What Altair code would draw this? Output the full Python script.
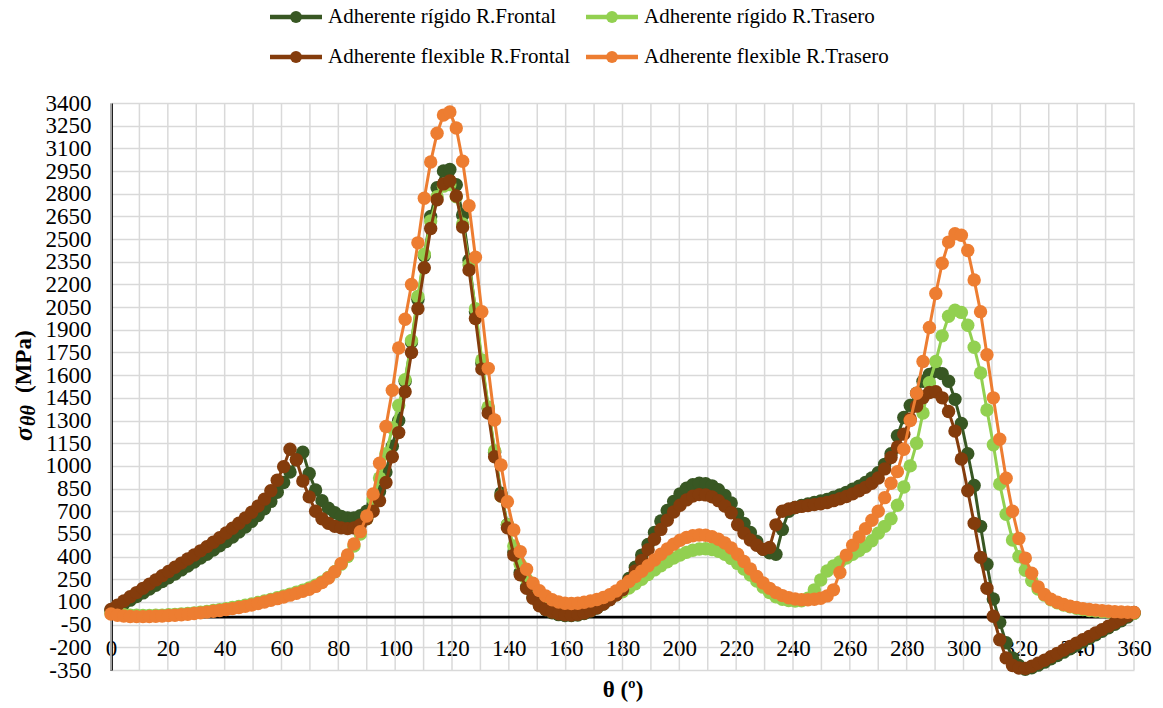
import altair as alt
import pandas as pd

# Angular positions (degrees) at which the hoop stress was evaluated
theta = [round(i * 2.25, 2) for i in range(161)]

series_names = [
    "Adherente rígido R.Frontal",
    "Adherente rígido R.Trasero",
    "Adherente flexible R.Frontal",
    "Adherente flexible R.Trasero",
]
series_colors = ["#385723", "#92d050", "#843c0c", "#ed7d31"]

rigido_frontal = [
    45, 65, 88, 112, 136, 160, 185, 210, 235, 260,
    285, 312, 338, 364, 390, 416, 443, 471, 500, 530,
    562, 596, 633, 672, 716, 765, 825, 890, 960, 1040,
    1090, 950, 840, 770, 720, 690, 665, 655, 655, 670,
    700, 750, 830, 960, 1130, 1300, 1560, 1820, 2100, 2390,
    2650, 2840, 2950, 2960, 2860, 2660, 2360, 2020, 1680, 1380,
    1090, 820, 610, 430, 295, 200, 130, 80, 48, 28,
    16, 10, 10, 14, 24, 40, 60, 86, 116, 150,
    190, 255, 330, 410, 480, 560, 635, 705, 765, 815,
    852, 875, 885, 882, 868, 843, 805, 755, 680, 620,
    560, 500, 448, 425, 415, 580, 700, 725, 738, 748,
    758, 768, 778, 792, 808, 825, 845, 865, 890, 920,
    955, 1010, 1080, 1200, 1320, 1400, 1480, 1560, 1605, 1625,
    1610, 1560, 1440, 1280, 1080, 870, 600, 350, 120, -35,
    -170, -270, -320, -345, -335, -318, -298, -276, -254, -232,
    -209, -186, -163, -140, -117, -94, -71, -48, -25, 0, 25,
]

rigido_trasero = [
    25, 20, 16, 13, 12, 11, 11, 12, 13, 15,
    18, 21, 24, 28, 32, 37, 43, 49, 56, 63,
    70, 78, 87, 96, 106, 117, 128, 140, 152, 165,
    178, 192, 210, 233, 262, 300, 350, 400, 470, 550,
    650, 780, 920, 1080, 1250, 1400, 1570, 1830, 2120, 2400,
    2620, 2780, 2850, 2860, 2780, 2600, 2330, 2040, 1700, 1390,
    1100, 800, 610, 470, 350, 250, 180, 130, 105, 92,
    85, 78, 75, 76, 80, 88, 98, 112, 128, 148,
    168, 192, 220, 250, 282, 312, 340, 366, 390, 410,
    428, 442, 450, 452, 447, 435, 415, 388, 355, 318,
    278, 238, 198, 162, 135, 118, 110, 106, 108, 125,
    180, 245, 305, 338, 365, 390, 415, 440, 468, 505,
    555, 600, 650, 740, 860, 1000, 1150, 1350, 1550, 1690,
    1860, 1990, 2030, 2015, 1930, 1785, 1615, 1370, 1140, 880,
    680, 510, 400, 310, 240, 185, 145, 115, 95, 80,
    68, 58, 50, 44, 40, 36, 33, 30, 28, 27, 25,
]

flexible_frontal = [
    50, 78, 106, 134, 162, 190, 218, 246, 274, 302,
    330, 357, 384, 411, 438, 466, 495, 525, 556, 588,
    621, 656, 693, 734, 780, 835, 905, 995, 1110, 1040,
    900, 795, 700, 650, 620, 600, 590, 585, 590, 610,
    650, 700, 770, 890, 1060, 1220, 1490, 1750, 2040, 2310,
    2570, 2760, 2865, 2885, 2785, 2580, 2295, 1975, 1640, 1350,
    1060, 800, 590, 410, 280, 190, 125, 75, 50, 33,
    22, 15, 14, 18, 27, 42, 62, 86, 114, 146,
    180, 240, 305, 375, 445, 515, 580, 640, 695, 740,
    775, 800, 810, 808, 795, 770, 735, 690, 610, 555,
    510, 475, 448, 460, 610, 700, 715, 725, 732, 738,
    744, 750, 758, 770, 783, 798, 815, 835, 858, 885,
    920, 980, 1055, 1125, 1210, 1310, 1395, 1450, 1485, 1490,
    1450, 1360, 1230, 1045, 835, 620, 395, 190, 5, -150,
    -270, -320, -337, -340, -325, -305, -285, -262, -240, -218,
    -195, -172, -150, -128, -105, -83, -60, -38, -15, 8, 30,
]

flexible_trasero = [
    20, 12, 7, 4, 3, 3, 4, 5, 7, 10,
    12, 15, 19, 24, 28, 33, 39, 44, 50, 56,
    63, 71, 80, 90, 100, 111, 122, 133, 145, 157,
    170, 184, 203, 228, 258, 300, 355, 411, 483, 565,
    669, 814, 1017, 1260, 1500, 1780, 1970, 2200, 2475, 2770,
    3010, 3200, 3320, 3340, 3235, 3015, 2720, 2380, 2020, 1645,
    1303, 1006, 763, 576, 433, 316, 224, 175, 140, 115,
    100, 92, 90, 92, 98, 106, 116, 130, 148, 172,
    205, 235, 268, 303, 340, 378, 415, 450, 482, 508,
    527, 538, 543, 541, 532, 515, 490, 457, 415, 368,
    318, 268, 225, 190, 162, 142, 128, 120, 115, 115,
    118, 125, 140, 180, 295, 410, 475, 530, 585, 640,
    700, 790, 885, 962, 1110, 1300, 1480, 1690, 1915, 2140,
    2340, 2480, 2535, 2525, 2425, 2230, 2020, 1735, 1450, 1176,
    918, 700, 520, 390, 290, 200, 150, 118, 98, 83,
    72, 63, 56, 50, 46, 42, 39, 36, 34, 32, 30,
]

series_values = [rigido_frontal, rigido_trasero, flexible_frontal, flexible_trasero]

x_ticks = list(range(0, 361, 10))
x_label_ticks = list(range(0, 361, 20))
y_ticks = list(range(-350, 3401, 150))

rows = []
for name, values in zip(series_names, series_values):
    for t, v in zip(theta, values):
        rows.append({"theta": t, "sigma": v, "series": name})
data = pd.DataFrame(rows)

FONT = "Liberation Serif"
GRID = "#d9d9d9"
W, H = 1023, 567

x_scale = alt.Scale(domain=[0, 360], nice=False, zero=False)
y_scale = alt.Scale(domain=[-350, 3400], nice=False, zero=False)

# Zero crossing of the vertical scale, used to lift the category axis
zero_offset = -H * 350 / 3750

x_axis = alt.Axis(
    values=x_label_ticks, grid=False, domain=False, ticks=False,
    offset=zero_offset, labelPadding=31, labelBaseline="middle",
    labelFont=FONT, labelFontSize=23, labelColor="black", labelOverlap=False,
    labelFlush=False, labelExpr="'' + datum.value",
    title="θ (º)", titleFont=FONT, titleFontSize=23, titleFontWeight="bold",
    titleColor="black", titlePadding=18,
)
y_axis = alt.Axis(
    values=y_ticks, grid=True, gridColor=GRID, gridWidth=1.5,
    domain=True, domainColor="black", domainWidth=2.75, ticks=False,
    labelPadding=20, labelFont=FONT, labelFontSize=23, labelColor="black",
    labelBaseline="middle", labelOverlap=False, labelFlush=False,
    labelExpr="'' + datum.value",
    title=None,
)

X = alt.X("theta:Q", scale=x_scale, axis=x_axis)
Y = alt.Y("sigma:Q", scale=y_scale, axis=y_axis)

layers = []

# Vertical grid lines every 10 degrees
layers.append(
    alt.Chart(pd.DataFrame({"theta": x_ticks}))
    .mark_rule(color=GRID, strokeWidth=1.5)
    .encode(x=X)
)

# Horizontal axis line at sigma = 0
layers.append(
    alt.Chart(pd.DataFrame({"sigma": [0]}))
    .mark_rule(color="black", strokeWidth=2.75)
    .encode(y=Y)
)

# Each series: connecting line, then its circular markers
for name, color in zip(series_names, series_colors):
    base = alt.Chart(data).transform_filter(alt.datum.series == name)
    layers.append(base.mark_line(color=color, strokeWidth=3).encode(x=X, y=Y, order="theta:Q"))
    layers.append(base.mark_circle(color=color, size=180, opacity=1).encode(x=X, y=Y))

# Legend: two rows by two columns above the plot
legend_cols = [159, 475]
legend_rows = [-86, -46]
for i, (name, color) in enumerate(zip(series_names, series_colors)):
    x0 = legend_cols[i % 2]
    yy = legend_rows[i // 2]
    entry = alt.Chart(pd.DataFrame({"series": [name]}))
    layers.append(entry.mark_rule(color=color, strokeWidth=4.5).encode(
        x=alt.value(x0), x2=alt.value(x0 + 52), y=alt.value(yy)))
    layers.append(entry.mark_circle(color=color, size=140, opacity=1).encode(
        x=alt.value(x0 + 26), y=alt.value(yy)))
    layers.append(entry.mark_text(align="left", baseline="middle", font=FONT,
                                  fontSize=21, color="black").encode(
        x=alt.value(x0 + 58), y=alt.value(yy), text="series:N"))

# Vertical axis title: sigma with theta-theta subscript, then the unit
title_src = alt.Chart(pd.DataFrame({"k": [0]}))
layers.append(title_src.mark_text(text="σ", angle=270, align="left", baseline="alphabetic",
                                  font=FONT, fontSize=26, fontStyle="italic", fontWeight="bold",
                                  color="black").encode(x=alt.value(-79), y=alt.value(338)))
layers.append(title_src.mark_text(text="θθ", angle=270, align="left", baseline="alphabetic",
                                  font=FONT, fontSize=20, fontStyle="italic", fontWeight="bold",
                                  color="black").encode(x=alt.value(-76), y=alt.value(323)))
layers.append(title_src.mark_text(text="(MPa)", angle=270, align="left", baseline="alphabetic",
                                  font=FONT, fontSize=23, fontWeight="bold",
                                  color="black").encode(x=alt.value(-80), y=alt.value(290)))

chart = (
    alt.layer(*layers)
    .properties(
        width=W, height=H,
        autosize=alt.AutoSizeParams(type="none"),
        padding={"left": 111, "top": 103, "right": 29, "bottom": 38},
        background="white",
    )
    .configure_view(strokeWidth=0)
)

chart.save("out.html", embed_options={"renderer": "svg", "actions": False})
